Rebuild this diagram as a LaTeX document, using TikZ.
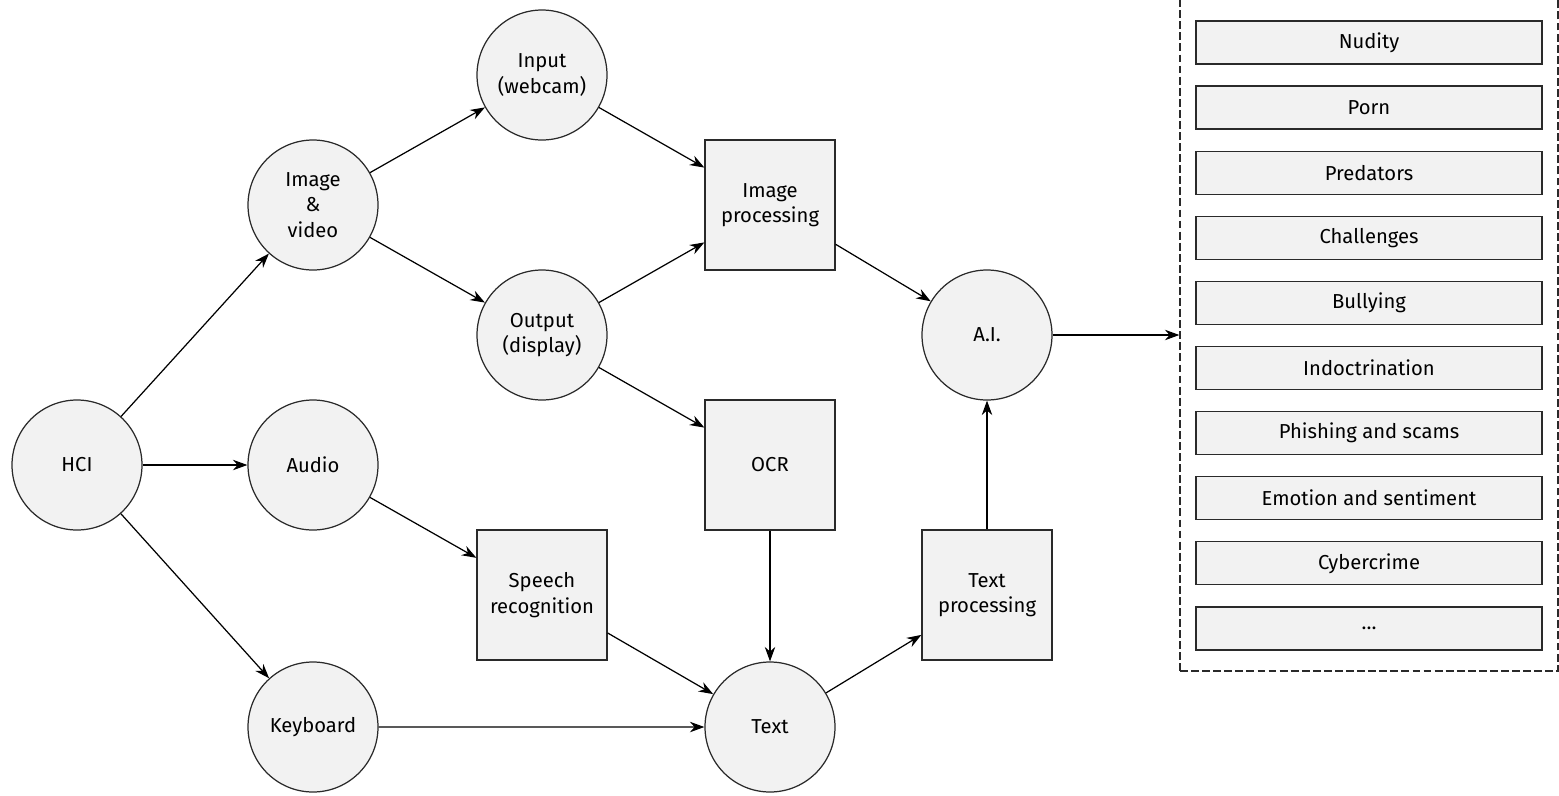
\documentclass[tikz,border=0pt]{standalone}
\usepackage{fontspec}
\setmainfont{Fira Sans}
\usepackage{xcolor}
\usepackage{tikz}
\usetikzlibrary{arrows.meta,automata,positioning}

\definecolor{boxfill}{HTML}{F2F2F2}
\definecolor{boxline}{HTML}{2A2A2A}

\begin{document}
\begin{tikzpicture}[auto, on grid, line width=0.7pt,
    >={Stealth[length=2.9mm,width=2.1mm]},
    font=\fontsize{11.5}{14.5}\selectfont]
\tikzstyle{every state}=[draw=boxline,fill=boxfill,minimum size=2.6cm,inner sep=0pt,align=center,line width=0.7pt]
\tikzstyle{procbox}=[rectangle,draw=boxline,fill=boxfill,minimum size=2.6cm,align=center]
\tikzstyle{catbox}=[rectangle,draw=boxline,fill=boxfill,minimum width=6.92cm,minimum height=0.86cm]

\useasboundingbox (0,0) rectangle (31.18,-15.9);

\node[state] (hci) at (1.54,-9.3) {HCI};
\node[state] (audio) [right=4.72cm of hci] {Audio};
\node[state] (imgvid) [above=5.2cm of audio] {Image\\\&\\video};
\node[state] (keyboard) [below=5.24cm of audio] {Keyboard};
\node[state] (input) [above right=2.6cm and 4.58cm of imgvid] {Input\\(webcam)};
\node[state] (output) [below right=2.6cm and 4.58cm of imgvid] {Output\\(display)};
\node[procbox] (imgproc) [below right=2.6cm and 4.56cm of input] {Image\\processing};
\node[procbox] (ocr) [below right=2.6cm and 4.56cm of output] {OCR};
\node[procbox] (speech) [below right=2.6cm and 4.58cm of audio] {Speech\\recognition};
\node[state] (text) [below=5.24cm of ocr] {Text};
\node[procbox] (textproc) [above right=2.64cm and 4.34cm of text] {Text\\processing};
\node[state] (ai) [above=5.2cm of textproc] {A.I.};

% threat categories
\node[draw=boxline,dash pattern=on 4.5pt off 1.8pt,minimum width=7.56cm,minimum height=13.44cm] (threats) at (27.38,-6.7) {};
\foreach \lbl [count=\i] in {Nudity,Porn,Predators,Challenges,Bullying,Indoctrination,Phishing and scams,Emotion and sentiment,Cybercrime,\ldots}
    \node[catbox] (cat\i) at (27.38,{-0.85-1.302*(\i-1)}) {\lbl};

\path[->] (hci)      edge (imgvid)
                     edge (audio)
                     edge (keyboard)
          (imgvid)   edge (input)
                     edge (output)
          (input)    edge (imgproc)
          (output)   edge (imgproc)
                     edge (ocr)
          (audio)    edge (speech)
          (speech)   edge (text)
          (keyboard) edge (text)
          (ocr)      edge (text)
          (text)     edge (textproc)
          (textproc) edge (ai)
          (imgproc)  edge (ai)
          (ai)       edge (threats.west |- ai);

\end{tikzpicture}
\end{document}
